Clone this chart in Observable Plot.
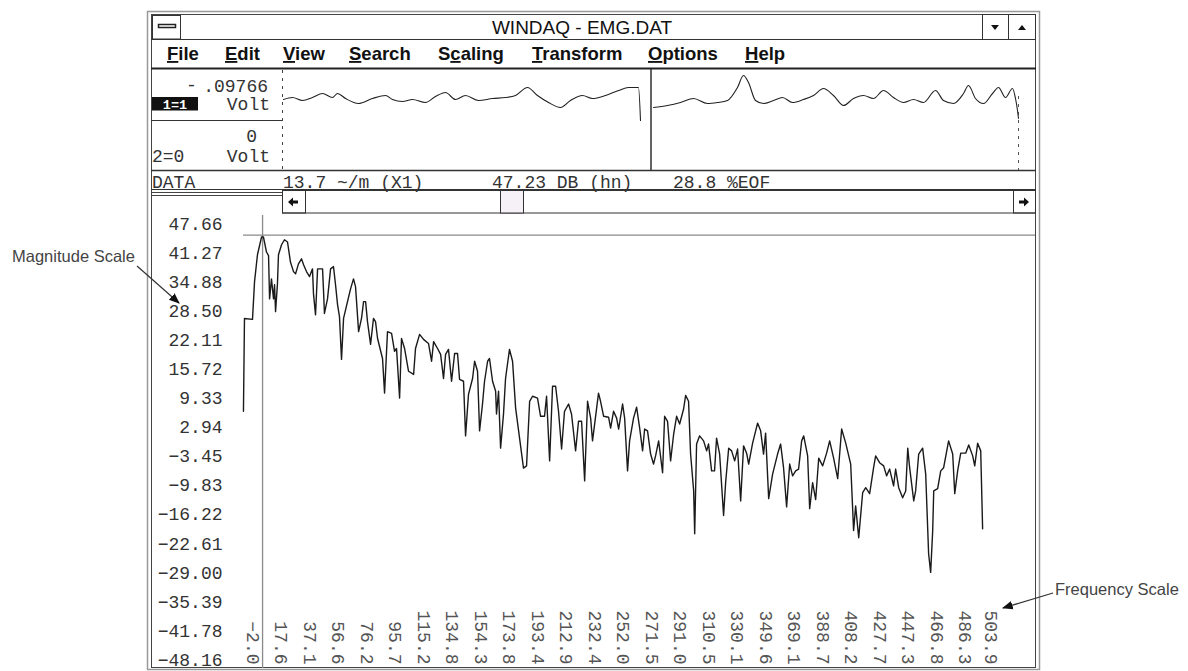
<!DOCTYPE html>
<html><head><meta charset="utf-8">
<script src="https://cdn.jsdelivr.net/npm/d3@7"></script>
<script src="https://cdn.jsdelivr.net/npm/@observablehq/plot@0.6"></script>
<style>
html,body{margin:0;padding:0;background:#fff;}
body{width:1188px;height:671px;position:relative;overflow:hidden;font-family:"Liberation Sans",Arial,sans-serif;}
.abs{position:absolute;}
</style></head><body>
<svg id="chrome" class="abs" style="left:0;top:0" width="1188" height="671">
  <defs>
    <marker id="ah" viewBox="0 0 10 10" refX="9" refY="5" markerWidth="9" markerHeight="9" orient="auto">
      <path d="M0,1 L10,5 L0,9 Z" fill="#111"/>
    </marker>
  </defs>
  <g fill="none">
    <rect x="147.5" y="11.5" width="892" height="658" stroke="#999" stroke-width="1.5"/>
    <rect x="151.5" y="14.5" width="884" height="653" stroke="#444"/>
    <line x1="151" y1="39.5" x2="1036" y2="39.5" stroke="#333"/>
    <line x1="151" y1="68.5" x2="1036" y2="68.5" stroke="#222" stroke-width="2"/>
    <line x1="151" y1="120.5" x2="282" y2="120.5" stroke="#333"/>
    <line x1="282.5" y1="70" x2="282.5" y2="170" stroke="#444" stroke-dasharray="3,5"/>
    <line x1="1018.5" y1="96" x2="1018.5" y2="170" stroke="#555" stroke-dasharray="3,5"/>
    <line x1="651" y1="69" x2="651" y2="170" stroke="#222" stroke-width="1.4"/>
    <line x1="151" y1="170.5" x2="1036" y2="170.5" stroke="#333" stroke-width="1.3"/>
    <line x1="151" y1="189.5" x2="1036" y2="189.5" stroke="#333"/>
    <line x1="151" y1="192.5" x2="282" y2="192.5" stroke="#444"/>
    <line x1="151" y1="195.5" x2="282" y2="195.5" stroke="#444"/>
    <rect x="282.5" y="190.5" width="753" height="22.5" stroke="#333"/>
    <rect x="282.5" y="190.5" width="23" height="22.5" stroke="#333"/>
    <rect x="500.5" y="190.5" width="23" height="22.5" stroke="#333" fill="#f6f1f6"/>
    <rect x="1013.5" y="190.5" width="22" height="22.5" stroke="#333"/>
    <rect x="152.5" y="15.5" width="28" height="23.5" stroke="#333" fill="#fff"/>
    <rect x="158.5" y="24.5" width="17" height="3" stroke="#222" stroke-width="1.5" fill="#fff"/>
    <rect x="982.5" y="14.5" width="26" height="25" stroke="#333"/>
    <rect x="1008.5" y="14.5" width="27" height="25" stroke="#333"/>
  </g>
  <polygon points="991,25 999,25 995,30" fill="#111"/>
  <polygon points="1018,30 1026,30 1022,25" fill="#111"/>
  <polygon points="288,202 293,197.5 293,200.5 298,200.5 298,203.5 293,203.5 293,206.5" fill="#111"/>
  <polygon points="1029,202 1024,197.5 1024,200.5 1019,200.5 1019,203.5 1024,203.5 1024,206.5" fill="#111"/>
  <text x="582" y="34" text-anchor="middle" font-size="19" fill="#111">WINDAQ - EMG.DAT</text>
  <g font-size="18.5" font-weight="bold" fill="#111">
    <text x="167" y="60"><tspan style="text-decoration:underline">F</tspan>ile</text>
    <text x="225" y="60"><tspan style="text-decoration:underline">E</tspan>dit</text>
    <text x="283" y="60"><tspan style="text-decoration:underline">V</tspan>iew</text>
    <text x="349" y="60"><tspan style="text-decoration:underline">S</tspan>earch</text>
    <text x="438" y="60">S<tspan style="text-decoration:underline">c</tspan>aling</text>
    <text x="532" y="60"><tspan style="text-decoration:underline">T</tspan>ransform</text>
    <text x="648" y="60"><tspan style="text-decoration:underline">O</tspan>ptions</text>
    <text x="745" y="60"><tspan style="text-decoration:underline">H</tspan>elp</text>
  </g>
  <g font-family="Liberation Mono, DejaVu Sans Mono, monospace" font-size="18" fill="#333">
    <text x="186" y="91">-</text>
    <text x="268" y="92" text-anchor="end">.09766</text>
    <rect x="152" y="97" width="46" height="13.5" fill="#111"/>
    <text x="175" y="109" text-anchor="middle" fill="#fff" font-weight="bold" font-size="13.5">1=1</text>
    <text x="270" y="110" text-anchor="end">Volt</text>
    <text x="257" y="142" text-anchor="end">0</text>
    <text x="152" y="162">2=0</text>
    <text x="270" y="162" text-anchor="end">Volt</text>
    <text x="152" y="188">DATA</text>
    <text x="283" y="188">13.7 ~/m (X1)</text>
    <text x="492" y="188">47.23 DB (hn)</text>
    <text x="673" y="188">28.8 %EOF</text>
  </g>
  <g font-size="16.5" fill="#444">
    <text x="12" y="262">Magnitude Scale</text>
    <text x="1055" y="595">Frequency Scale</text>
  </g>
  <line x1="137" y1="266" x2="179" y2="303" stroke="#333" stroke-width="1.2" marker-end="url(#ah)"/>
  <line x1="1053" y1="593" x2="1003" y2="608" stroke="#333" stroke-width="1.2" marker-end="url(#ah)"/>
</svg>
<div id="upper" class="abs" style="left:283px;top:70px;width:740px;height:100px"></div>
<div id="main" class="abs" style="left:148px;top:213px;width:888px;height:456px"></div>
<script>
// ---- main spectrum (frequency Hz, magnitude dB) ----
const specFreq = [
  -8.2,-7.5,-2.0,-0.6,1.4,4.2,5.5,7.6,9.0,9.7,
  11.0,12.4,13.1,13.8,15.1,15.8,17.9,19.9,22.0,24.0,
  26.1,27.5,29.5,31.6,33.0,35.0,37.1,39.1,39.8,41.2,
  42.6,46.0,46.7,47.3,49.4,51.5,53.5,54.9,56.3,57.6,
  59.0,60.4,63.1,65.2,67.2,68.6,70.7,72.7,74.1,75.5,
  76.8,78.9,80.9,82.3,83.7,87.1,88.5,90.5,93.3,95.3,
  96.7,98.8,100.1,102.2,104.9,108.4,109.7,112.5,115.2,118.6,
  120.7,122.1,124.8,126.9,128.9,130.3,132.3,134.4,136.5,138.5,
  139.9,142.6,144.0,146.0,148.8,150.2,152.2,153.6,155.6,157.0,
  159.1,160.4,162.5,164.6,165.2,166.6,168.0,170.0,171.4,174.1,
  176.2,178.3,181.0,183.7,185.8,187.9,189.9,193.3,195.4,198.1,
  199.5,201.6,203.6,205.7,207.7,209.8,211.8,214.6,216.6,219.4,
  221.4,223.5,225.6,227.6,229.7,231.0,235.1,236.5,238.6,242.0,
  243.4,245.4,247.5,248.9,251.6,253.0,255.0,256.4,259.1,261.2,
  263.3,265.3,266.7,268.7,270.8,272.8,274.2,276.3,279.0,280.4,
  282.4,284.5,286.6,288.6,290.7,293.4,294.8,296.8,298.2,300.3,
  301.0,302.3,304.4,307.1,309.2,310.5,312.6,314.6,316.0,318.1,
  320.8,322.2,324.3,326.3,328.4,330.4,332.5,334.5,336.6,338.0,
  340.7,344.1,346.2,348.2,349.6,351.7,354.4,357.8,359.9,361.9,
  364.0,366.1,368.1,370.2,372.2,374.3,375.7,378.4,379.8,381.8,
  383.9,386.0,388.7,391.4,393.5,396.2,399.0,401.7,404.5,407.9,
  409.9,411.3,413.4,416.1,418.2,420.9,423.6,425.0,427.7,430.5,
  432.5,434.6,437.3,438.7,440.8,443.5,445.6,447.0,448.3,451.1,
  452.4,454.5,457.2,459.3,461.3,462.7,464.1,464.8,467.5,469.6,
  471.6,475.0,477.8,479.2,481.2,483.3,486.7,488.8,491.5,492.9,
  494.9,497.0,498.3
];
const specMag = [
  6.5,26.9,26.7,35.0,40.9,44.8,44.8,41.5,40.7,31.2,
  35.6,31.2,34.3,28.4,34.5,40.9,43.1,44.2,43.7,39.3,
  37.2,36.7,38.9,40.0,38.7,37.2,36.1,37.8,32.3,27.7,
  37.8,37.8,32.8,28.0,31.2,37.8,38.3,34.3,29.9,27.3,
  17.9,26.9,30.6,33.4,35.6,33.9,24.0,26.9,30.6,30.6,
  26.2,21.2,26.9,26.2,22.5,18.1,10.5,24.0,23.6,19.7,
  20.3,9.4,22.5,20.3,15.3,14.6,20.3,23.4,22.3,21.4,
  17.5,21.8,20.3,19.0,13.7,19.0,20.1,13.1,19.2,19.2,
  13.5,13.1,1.1,10.2,13.7,17.5,15.3,2.2,8.1,13.1,
  17.5,18.1,13.1,10.9,5.9,10.9,-1.6,5.9,13.7,20.1,
  17.5,7.2,0.6,-6.0,-5.5,8.7,9.8,9.4,5.4,5.4,
  9.8,-4.4,12.0,12.0,6.5,-1.8,6.5,8.1,5.9,-2.2,
  4.3,4.3,-8.8,8.7,5.0,0.0,10.5,8.7,5.4,5.2,
  2.8,6.5,5.0,2.6,8.1,5.0,-6.6,0.0,5.0,7.4,
  2.8,-2.2,2.6,2.2,-2.9,-5.1,-3.3,0.0,-7.0,5.4,
  4.3,-4.4,1.5,5.4,3.7,7.0,10.0,8.7,-2.9,-11.0,
  -20.4,-0.7,1.1,0.0,-2.2,-0.7,-6.6,-6.6,0.6,-2.9,
  -16.4,-9.2,-1.6,-2.2,-4.4,-1.8,-13.2,-1.1,-2.7,-5.1,
  -0.5,3.9,2.2,-2.9,1.7,-12.7,-7.3,-2.9,-0.7,-5.9,
  -14.5,-5.1,-7.7,-6.6,-6.2,0.0,1.1,-3.3,-14.9,-9.2,
  -12.9,-3.8,-5.5,-2.7,0.0,-3.8,-8.3,2.6,-0.5,-5.1,
  -19.7,-14.3,-21.3,-11.4,-10.3,-11.6,-5.9,-3.3,-4.8,-5.5,
  -7.7,-6.2,-9.9,-6.2,-10.3,-12.5,-11.0,-1.6,-5.9,-13.2,
  -11.0,-2.9,-1.6,-7.3,-24.8,-28.9,-19.7,-11.0,-10.5,-6.6,
  -5.9,0.0,-2.9,-11.6,-6.6,-2.7,-2.7,-0.9,-3.3,-5.5,
  -0.5,-2.2,-19.3
];
// axis tick values shown on the WINDAQ display
const yTicks = [47.66,41.27,34.88,28.50,22.11,15.72,9.33,2.94,-3.45,-9.83,-16.22,-22.61,-29.00,-35.39,-41.78,-48.16];
const xTicks = [-2.0,17.6,37.1,56.6,76.2,95.7,115.2,134.8,154.3,173.8,193.4,212.9,232.4,252.0,271.5,291.0,310.5,330.1,349.6,369.1,388.7,408.2,427.7,447.3,466.8,486.3,503.9];
// cursor position (peak)
const cursorFreq = [4.9];
const cursorMag = [45.2];

// ---- upper waveform trace (relative time, relative amplitude) ----
const upperT = [0,9,19,29,39,49,54,62,75,89,102,109,119,129,142,152,162,172,182,195,209,222,232,244,254,265,277,287,299,309,322,335,345,355,357,
  370,384,397,410,424,434,444,454,460,465,472,480,490,499,509,520,530,540,550,560,570,580,590,600,610,620,630,640,652,660,670,680,685,692,700,709,715,722,729,732,734,735];
const upperA = [1,3,0,3,7,3,7,2,-3,2,5,1,-1,1,-2,4,8,1,5,0,2,3,5,13,5,-2,-7,0,5,2,5,10,13,13,-20,
  -7,-5,-2,2,-3,-2,0,13,25,18,0,-3,0,3,-2,1,5,12,5,-5,2,5,2,10,3,-2,1,-2,10,0,-3,7,15,2,-3,7,13,3,12,2,-10,-18];
const upperSeg = upperT.map((t, i) => i < 35 ? "a" : "b");

const spectrum = specFreq.map((f, i) => ({f, m: specMag[i]}));
const upperData = upperT.map((t, i) => ({t, a: upperA[i], seg: upperSeg[i]}));

const mono = "Liberation Mono, DejaVu Sans Mono, monospace";

const upper = Plot.plot({
  width: 740, height: 100, margin: 0,
  x: {domain: [0, 735], range: [0, 735], axis: null},
  y: {domain: [-70, 30], range: [100, 0], axis: null},
  style: {background: "transparent", overflow: "visible"},
  marks: [
    Plot.line(upperData, {x: "t", y: "a", z: "seg", stroke: "#222", strokeWidth: 1.1, curve: "monotone-x"})
  ]
});
document.getElementById("upper").appendChild(upper);

const main = Plot.plot({
  width: 888, height: 456,
  marginLeft: 95, marginRight: 1, marginTop: 2, marginBottom: 1,
  x: {domain: [-2, 486.3], range: [104, 816.6], axis: null},
  y: {domain: [-48.16, 47.66], range: [446.5, 10.5], axis: null},
  style: {background: "transparent", overflow: "visible"},
  marks: [
    Plot.ruleX(cursorFreq, {stroke: "#8a8a8a", strokeWidth: 1.3}),
    Plot.ruleY(cursorMag, {stroke: "#8a8a8a", strokeWidth: 1.3}),
    Plot.line(spectrum, {x: "f", y: "m", stroke: "#1a1a1a", strokeWidth: 1.4}),
    Plot.text(yTicks, {y: d => d, text: d => (d < 0 ? "\u2212" : "") + Math.abs(d).toFixed(2),
      frameAnchor: "left", textAnchor: "end", dx: -21, fontFamily: mono, fontSize: 18, fill: "#333"}),
    Plot.text(xTicks, {x: d => d, text: d => (d < 0 ? "\u2212" : "") + Math.abs(d).toFixed(1),
      frameAnchor: "bottom", rotate: 90, textAnchor: "end", lineAnchor: "middle", dy: -4,
      fontFamily: mono, fontSize: 18, fill: "#555", ariaLabel: "xlabels"})
  ]
});
document.getElementById("main").appendChild(main);
d3.select(main).selectAll('g[aria-label="xlabels"] text').attr("letter-spacing", 3);
</script>
</body></html>
